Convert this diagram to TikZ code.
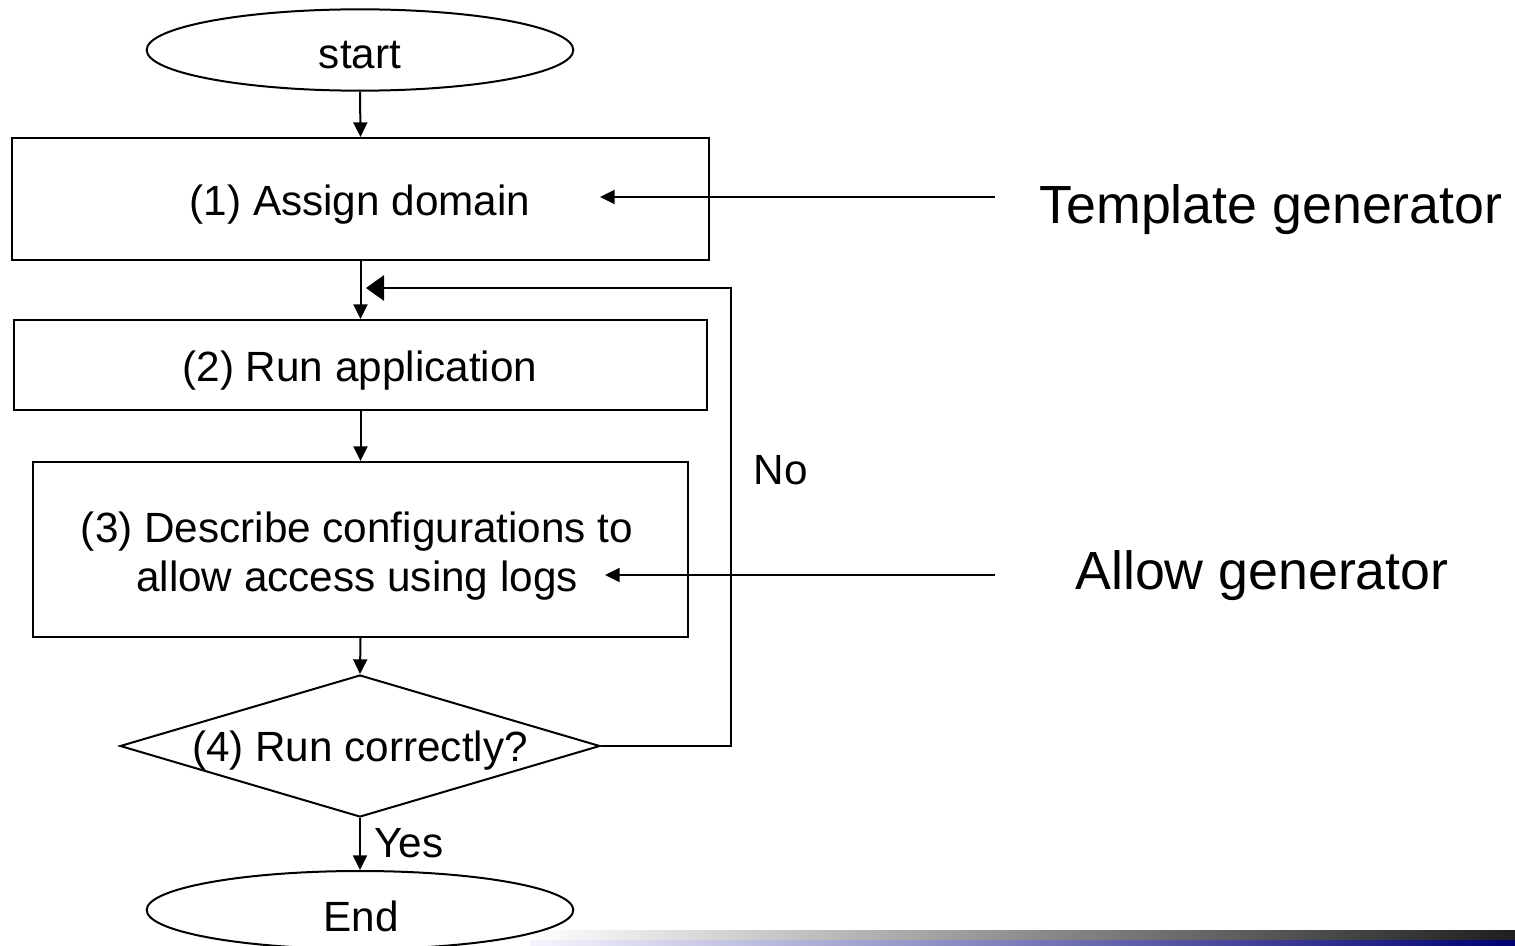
\documentclass[tikz,border=0pt]{standalone}
\usepackage{fontspec}
\setmainfont{Liberation Sans}
\usetikzlibrary{shapes.geometric,arrows.meta}
\tikzset{
  flow/.style={line width=1.5pt},
  box/.style={draw,flow,inner sep=0pt},
  term/.style={draw,flow,ellipse,inner sep=0pt},
  lbl/.style={inner sep=0pt,font=\fontsize{31.7}{38}\selectfont},
  big/.style={inner sep=0pt,font=\fontsize{40.3}{48}\selectfont},
  arr/.style={flow,-{Triangle[length=11pt,width=10.5pt]}},
  backarr/.style={flow,-{Triangle[length=13.5pt,width=19pt]}},
}
\begin{document}
\begin{tikzpicture}[x=0.75pt,y=-0.75pt]
\useasboundingbox (0,0) rectangle (1515,945);
% footer bars
\shade[left color=white,right color=black!88] (530,930) rectangle (1515,940);
\shade[left color=blue!4!white,right color=blue!45!black] (530,940) rectangle (1515,945);

% flow chart shapes
\node[term,minimum width=320pt,minimum height=61pt] (start) at (360,50) {};
\node[lbl] (starttext) at (360,55) {start};
\node[box,minimum width=522.75pt,minimum height=91.5pt] (s1) at (360.5,199) {};
\node[lbl] (s1text) at (360,205) {(1) Assign domain};
\node[box,minimum width=519.75pt,minimum height=67.5pt] (s2) at (360.5,365) {};
\node[lbl] (s2text) at (360,371) {(2) Run application};
\node[box,minimum width=491.25pt,minimum height=131.25pt] (s3) at (360.5,549.5) {};
\node[lbl,align=center] (s3text) at (357,556) {(3) Describe configurations to\\[-1.5pt]allow access using logs};
\node[draw,flow,diamond,inner sep=0pt,minimum width=360pt,minimum height=106.5pt] (s4) at (360,746) {};
\node[lbl] (s4text) at (360,751) {(4) Run correctly?};
\node[term,minimum width=320pt,minimum height=58.5pt] (stop) at (360,910) {};
\node[lbl] (stoptext) at (361,916) {End};

% side inputs
\node[big] (tmpl) at (1271,210) {Template generator};
\node[big] (allow) at (1262,576) {Allow generator};
\coordinate (tmplin) at (995,197);
\coordinate (tmplend) at (600,197);
\coordinate (allowin) at (995,575);
\coordinate (allowend) at (605,575);

% labels on branches
\node[lbl] (no) at (781,470) {No};
\node[lbl] (yes) at (409,843) {Yes};

% connectors
\draw[arr] (start.south) -- (s1.north);
\draw[arr] (s1.south) -- (s2.north);
\draw[arr] (s2.south) -- (s3.north);
\draw[arr] (s3.south) -- (s4.north);
\draw[arr] (s4.south) -- (stop.north);
\coordinate (loopdown) at (731,746);
\coordinate (loopup) at (731,288);
\coordinate (loopend) at (366,288);
\draw[backarr] (s4.east) -- (loopdown) -- (loopup) -- (loopend);
\draw[arr] (tmplin) -- (tmplend);
\draw[arr] (allowin) -- (allowend);
\end{tikzpicture}
\end{document}
